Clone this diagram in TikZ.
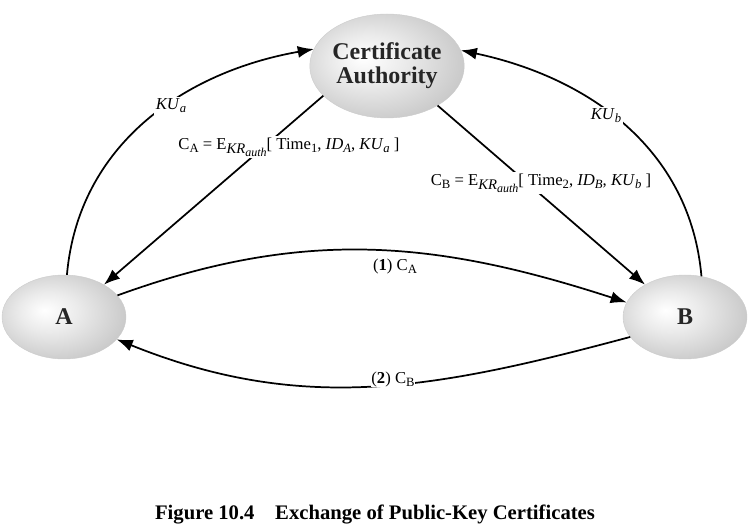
\documentclass[tikz,border=0pt]{standalone}
\usepackage{fontspec}
\setmainfont{Liberation Serif}
\usetikzlibrary{shapes.geometric,arrows.meta}
\pgfdeclareradialshading{ballish}{\pgfpoint{-8bp}{4bp}}{%
  color(0bp)=(white); color(12bp)=(white!92!black); color(30bp)=(white!78!black);
  color(40bp)=(white!62!black); color(50bp)=(white!70!black)}
\newcommand{\sbs}[1]{\raisebox{-0.4ex}{\fontsize{9.5}{10}\selectfont #1}}
\newcommand{\ekr}{E\raisebox{-0.55ex}{\fontsize{11}{12}\selectfont\itshape KR\raisebox{-0.45ex}{\fontsize{9}{10}\selectfont auth}}}
\tikzset{
  party/.style={ellipse, draw=white!80!black, line width=0.3pt, shading=ballish,
    inner sep=0pt, font=\fontsize{18}{20}\selectfont\bfseries, text=black!85},
  conn/.style={line width=1.3pt, -{Latex[length=12pt,width=9pt]}},
  lbl/.style={fill=white, inner sep=1.5pt, font=\fontsize{12.5}{14}\selectfont},
}
\begin{document}
\begin{tikzpicture}[x=0.75pt, y=-0.75pt]
\useasboundingbox (0,0) rectangle (755,530);
\node[party, minimum width=108pt, minimum height=78pt, align=center] (CA) at (387,66)
  {Certificate\\[-2pt]Authority};
\node[party, minimum width=93pt, minimum height=63pt] (A) at (64,317) {A};
\node[party, minimum width=93pt, minimum height=63pt] (B) at (685,317) {B};

\draw[conn] (A.86) to[out=85, in=190] (CA.167);
\draw[conn] (B.68) to[out=95, in=-12] (CA.12);
\draw[conn] (CA.205) -- (A.39);
\draw[conn] (CA.-38) -- (B.141);
\draw[conn] (A.22) to[out=20, in=162] (B.166);
\draw[conn] (B.200) to[out=195, in=-22] (A.-23);

\node[lbl] (kua) at (171,106) {\textit{KU}\sbs{\textit{a}}};
\node[lbl] (kub) at (606,116) {\textit{KU}\sbs{\textit{b}}};
\node[lbl] (ca) at (289,147) {C\sbs{A} = \ekr[ Time\sbs{1}, \textit{ID}\sbs{\textit{A}}, \textit{KU}\sbs{\textit{a}} ]};
\node[lbl] (cb) at (541,183) {C\sbs{B} = \ekr[ Time\sbs{2}, \textit{ID}\sbs{\textit{B}}, \textit{KU}\sbs{\textit{b}} ]};
\node[lbl, inner sep=0.5pt] (m1) at (395,266) {(\textbf{1}) C\sbs{A}};
\node[lbl, inner sep=0.5pt] (m2) at (393,379) {(\textbf{2}) C\sbs{B}};
\node[font=\fontsize{15.5}{17}\selectfont\bfseries] (cap) at (375,515)
  {Figure 10.4\quad Exchange of Public-Key Certificates};
\end{tikzpicture}
\end{document}
